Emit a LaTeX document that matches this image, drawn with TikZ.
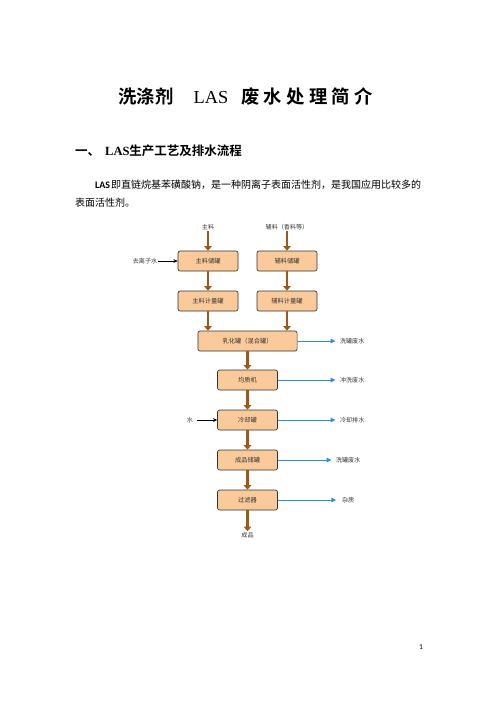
\documentclass[tikz,border=0pt]{standalone}
\usepackage{fontspec}
\setmainfont{Liberation Serif}
\newfontfamily\cjk{Noto Sans CJK SC}[BoldFont={Noto Sans CJK SC Bold}]
\newfontfamily\calib{Carlito}
\usetikzlibrary{arrows.meta}
\definecolor{tankfill}{RGB}{250,202,154}
\definecolor{pipebrown}{RGB}{156,90,22}
\definecolor{drainblue}{RGB}{45,140,230}
\definecolor{labelgray}{RGB}{55,55,55}

\begin{document}
\begin{tikzpicture}[x=1.2pt,y=-1.2pt,
    tank/.style={draw=black!80,fill=tankfill,rounded corners=2.5pt,line width=0.8pt,
      minimum width=72pt,minimum height=24pt,inner sep=0pt,
      font=\cjk\fontsize{7.5}{8.5}\selectfont,text=labelgray},
    tag/.style={font=\cjk\fontsize{7.3}{8.5}\selectfont,text=labelgray,inner sep=1pt},
    feed/.style={draw=pipebrown,line width=2.6pt,-{Triangle[length=5.5pt,width=9pt]}},
    drain/.style={draw=drainblue,line width=0.9pt,-{Triangle[length=5.5pt,width=5.5pt]}},
    inlet/.style={draw=black,line width=0.8pt,-{Stealth[length=5pt,width=4.5pt]}}]
    \useasboundingbox[fill=white] (0,0) rectangle (496,702);
    % page text
    \node[anchor=base] (ttla) at (146,103) {\cjk\bfseries\fontsize{22}{26}\selectfont 洗涤剂};
    \node[anchor=base] (ttlb) at (211,103) {\fontsize{22}{26}\selectfont LAS};
    \foreach \ch [count=\i] in {废,水,处,理,简,介}
      \node[anchor=base] (ttlc\i) at ({250.3+22.7*(\i-1)},103) {\cjk\bfseries\fontsize{22}{26}\selectfont\ch};
    \node[anchor=base west,inner sep=0pt] (head) at (75,155.5)
      {\fontsize{15}{18}\selectfont{\cjk\bfseries 一、}\hspace{6pt}{\bfseries LAS}{\cjk\bfseries 生产工艺及排水流程}};
    \node[anchor=base west,inner sep=0pt] (parA) at (95,188.5)
      {\fontsize{12}{14}\selectfont{\calib\bfseries LAS}\hspace{1pt}{\cjk 即直链烷基苯磺酸钠，是一种阴离子表面活性剂，是我国应用比较多的}};
    \node[anchor=base west,inner sep=0pt] (parB) at (75,206.5)
      {\fontsize{12}{14}\selectfont\cjk 表面活性剂。};
    \node (pageno) at (421,647) {\calib\fontsize{9}{10}\selectfont 1};
    % flow chart
    \node[tag] (zl) at (208,227) {主料};
    \node[tag] (fl) at (287,227) {辅料（香料等）};
    \node[tag] (qlz) at (145,261) {去离子水};
    \node[tank] (zlcg) at (208,261) {主料储罐};
    \node[tank] (flcg) at (287,261) {辅料储罐};
    \node[tank] (zljl) at (208,301) {主料计量罐};
    \node[tank] (fljl) at (287,301) {辅料计量罐};
    \node[tank,minimum width=119pt] (rhg) at (247.5,341) {乳化罐（混合罐）};
    \node[tank] (jzj) at (247.5,380) {均质机};
    \node[tank] (lqg) at (247.5,420) {冷却罐};
    \node[tank] (cpcg) at (247.5,460) {成品储罐};
    \node[tank] (glq) at (247.5,500) {过滤器};
    \node[tag] (cp) at (247.5,535) {成品};
    \node[tag] (shui) at (190,420) {水};
    \node[tag,anchor=west] (wa) at (339,341) {洗罐废水};
    \node[tag,anchor=west] (wb) at (339,380) {冲洗废水};
    \node[tag,anchor=west] (wc) at (339,420) {冷却排水};
    \node[tag,anchor=west] (wd) at (335,460) {洗罐废水};
    \node[tag,anchor=west] (we) at (341,500) {杂质};
    \draw [feed] (zl) to (zlcg);
    \draw [feed] (fl) to (flcg);
    \draw [feed] (zlcg) to (zljl);
    \draw [feed] (flcg) to (fljl);
    \draw [feed] (zljl.south) to (zljl.south |- rhg.north);
    \draw [feed] (fljl.south) to (fljl.south |- rhg.north);
    \draw [feed] (rhg) to (jzj);
    \draw [feed] (jzj) to (lqg);
    \draw [feed] (lqg) to (cpcg);
    \draw [feed] (cpcg) to (glq);
    \draw [feed] (glq) to (cp);
    \draw [inlet] (qlz) to (zlcg);
    \draw [inlet,shorten <=3pt] (shui) to (lqg);
    \draw [drain,shorten >=4.5pt] (rhg) to (wa);
    \draw [drain,shorten >=4.5pt] (jzj) to (wb);
    \draw [drain,shorten >=4.5pt] (lqg) to (wc);
    \draw [drain,shorten >=4.5pt] (cpcg) to (wd);
    \draw [drain,shorten >=6pt] (glq) to (we);
\end{tikzpicture}
\end{document}
